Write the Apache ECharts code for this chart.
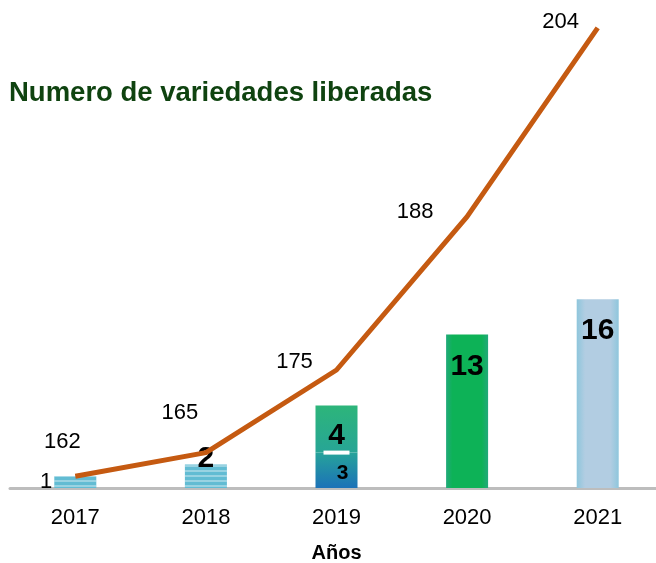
<!DOCTYPE html>
<html>
<head>
<meta charset="utf-8">
<script src="https://cdn.jsdelivr.net/npm/echarts@6/dist/echarts.min.js"></script>
<style>
  html, body { margin: 0; padding: 0; background: #fff; }
  #chart { width: 656px; height: 563px; }
</style>
</head>
<body>
<div id="chart"></div>
<script>
const years = ['2017', '2018', '2019', '2020', '2021']
// varieties released per year (2019 split as 3 + 4)
const releasedBase = [1, 2, 3, 13, 16]
const releasedUpper = [null, null, 4, null, null]
// line heights as drawn (on the bar scale) and the totals printed next to them
const totalLine = [1, 3, 10, 23, 39]
const totalLabels = [162, 165, 175, 188, 204]

const font = 'Liberation Sans, Arial, sans-serif'

const striped = {
  color: '#62bcd3',
  decal: {
    symbol: 'rect',
    dashArrayX: [1, 0],
    dashArrayY: [2, 3],
    color: 'rgba(255,255,255,0.35)',
    rotation: 0,
  },
}

const barStyles = [
  striped,
  striped,
  { color: new echarts.graphic.LinearGradient(0, 0, 0, 1, [
    { offset: 0, color: '#26a39a' }, { offset: 1, color: '#1c72b8' },
  ]) },
  { color: new echarts.graphic.LinearGradient(0, 0, 1, 0, [
    { offset: 0, color: '#22a97a' }, { offset: 0.15, color: '#0db257' },
    { offset: 0.85, color: '#0db257' }, { offset: 1, color: '#22a97a' },
  ]) },
  { color: new echarts.graphic.LinearGradient(0, 0, 1, 0, [
    { offset: 0, color: '#8ec6dc' }, { offset: 0.2, color: '#b2cde2' },
    { offset: 0.8, color: '#b2cde2' }, { offset: 1, color: '#8ec6dc' },
  ]) },
]

const bigLabel = { fontFamily: font, fontWeight: 'bold', fontSize: 30, color: '#000' }
const barLabels = [
  { show: true, position: 'left', distance: 2, fontFamily: font, fontSize: 22, color: '#000' },
  { ...bigLabel, show: true, position: 'top', distance: -9 },
  { show: true, position: 'inside', offset: [6, 3], fontFamily: font, fontWeight: 'bold', fontSize: 21, color: '#000' },
  { ...bigLabel, show: true, position: 'insideTop', distance: 17 },
  { ...bigLabel, show: true, position: 'insideTop', distance: 17 },
]

const lineLabelOffsets = [[-13, -23], [-26, -28], [-42, 3], [-52, 7], [-37, 6]]

const chart = echarts.init(document.getElementById('chart'))

chart.setOption({
  backgroundColor: '#fff',
  animation: false,
  title: {
    text: 'Numero de variedades liberadas',
    left: 4,
    top: 74,
    textStyle: { fontFamily: font, fontWeight: 'bold', fontSize: 27.5, color: '#0f4310' },
  },
  grid: { left: 10, right: -7, top: 16, bottom: 75, outerBoundsMode: 'none' },
  xAxis: {
    type: 'category',
    data: years,
    axisLine: { show: true, lineStyle: { color: '#bdbdbd', width: 3 } },
    axisTick: { show: false },
    axisLabel: { fontFamily: font, fontSize: 22, color: '#000', margin: 19 },
    name: 'Años',
    nameLocation: 'middle',
    nameGap: 55,
    nameTextStyle: { fontFamily: font, fontWeight: 'bold', fontSize: 20, color: '#000' },
  },
  yAxis: {
    type: 'value',
    min: 0,
    max: 40,
    show: false,
  },
  series: [
    {
      type: 'bar',
      stack: 'released',
      barWidth: 42,
      data: releasedBase.map((v, i) => ({
        value: v,
        itemStyle: barStyles[i],
        label: barLabels[i],
      })),
      z: 2,
    },
    {
      type: 'bar',
      stack: 'released',
      barWidth: 42,
      data: releasedUpper.map(v => v == null ? '-' : v),
      itemStyle: {
        color: new echarts.graphic.LinearGradient(0, 0, 0, 1, [
          { offset: 0, color: '#2db57a' }, { offset: 1, color: '#27a596' },
        ]),
      },
      label: {
        show: true,
        position: 'insideBottom',
        distance: -2,
        formatter: p => '{n|' + p.value + '}\n{u|}',
        rich: {
          n: { fontFamily: font, fontWeight: 'bold', fontSize: 30, color: '#000', lineHeight: 30 },
          u: { backgroundColor: '#ffffff', width: 26, height: 4, lineHeight: 4 },
        },
      },
      z: 2,
    },
    {
      type: 'line',
      data: totalLine.map((v, i) => ({
        value: v,
        label: { offset: lineLabelOffsets[i] },
      })),
      symbol: 'circle',
      symbolSize: 1,
      showSymbol: true,
      itemStyle: { color: 'rgba(0,0,0,0)' },
      lineStyle: { color: '#c55a11', width: 5 },
      label: {
        show: true,
        position: 'top',
        distance: 0,
        fontFamily: font,
        fontSize: 22,
        color: '#000',
        formatter: p => String(totalLabels[p.dataIndex]),
      },
      z: 3,
    },
  ],
})
</script>
</body>
</html>
